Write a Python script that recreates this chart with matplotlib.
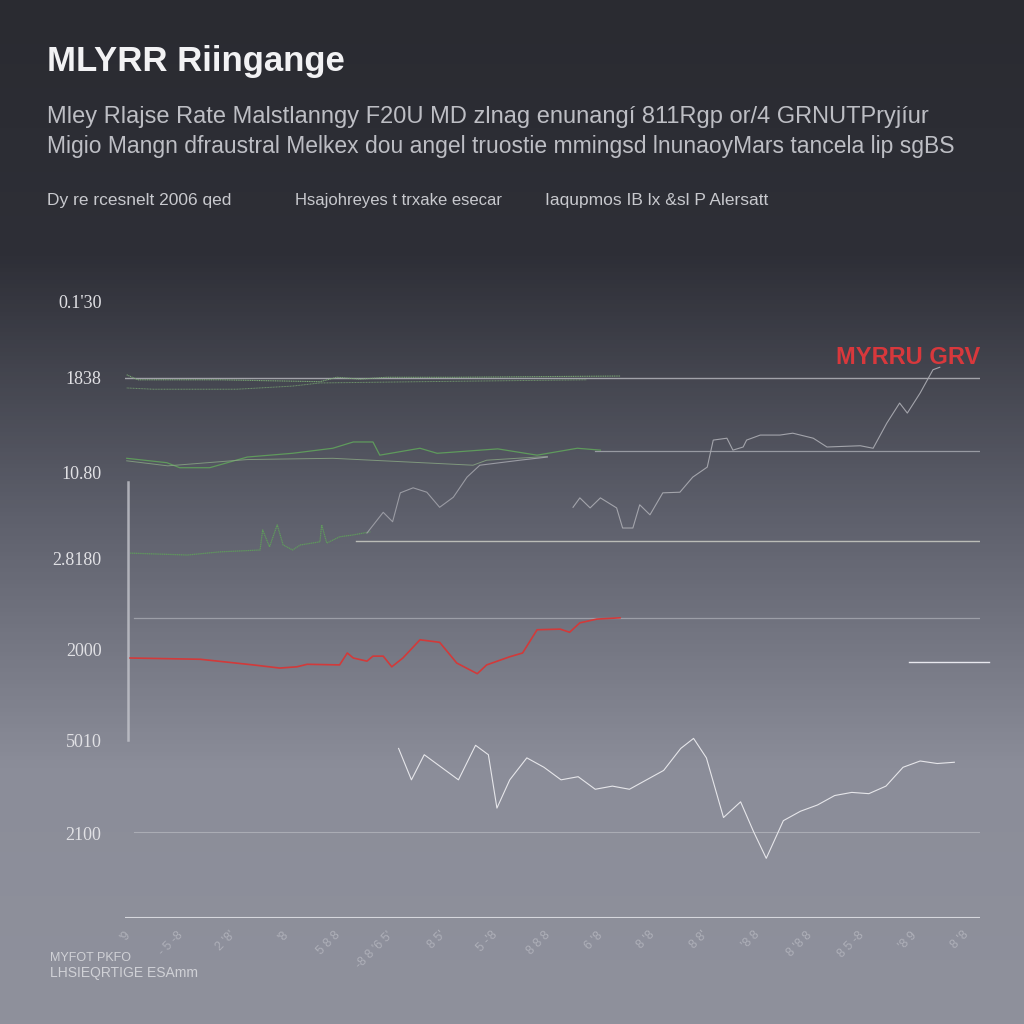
import numpy as np
import matplotlib.pyplot as plt
from matplotlib.colors import LinearSegmentedColormap

# y tick labels as they appear (top to bottom)
ytick_labels = ["0.1'30", "1838", "10.80", "2.8180", "2000", "5010", "2100"]
ytick_values = [98.1, 86.0, 71.0, 57.3, 42.7, 28.3, 13.5]

xtick_labels = ["'9", "- 5 -8", "2 '8'", "'8", "5 8 8", "-8 8 '6 5'", "8 5'",
                "5 -'8", "8 8 8", "6 '8", "8 '8", "8 8'", "'8 8", "8 '8 8",
                "8 5 -8", "'8 9", "8 '8"]

# series, x in 0..100 across the plot
green_top_x = [0.2, 1.5, 11.1, 22.8, 24.8, 27.5, 30.6, 38.4, 57.9]
green_top_y = [86.5, 85.7, 85.7, 85.4, 86.1, 85.8, 86.1, 86.1, 86.3]
green_top2_x = [0.2, 3.3, 13.1, 19.6, 22.8, 34.5, 54.0]
green_top2_y = [84.4, 84.2, 84.2, 84.7, 85.2, 85.4, 85.7]

green_mid_x = [0.2, 4.9, 6.4, 9.9, 14.3, 19.6, 24.3, 26.7, 29.0, 29.8, 34.5, 36.5, 43.6, 48.2, 52.9, 55.6]
green_mid_y = [73.2, 72.5, 71.7, 71.7, 73.4, 74.0, 74.8, 75.8, 75.8, 73.7, 74.8, 74.0, 74.7, 73.7, 74.8, 74.5]
green_mid2_x = [0.2, 5.0, 14.3, 24.3, 40.7, 42.3, 49.4]
green_mid2_y = [72.8, 72.0, 73.0, 73.2, 72.1, 72.9, 73.5]

green_low_x = [0.6, 7.3, 11.1, 15.8, 16.1, 16.9, 17.8, 18.5, 19.6, 20.5, 22.8, 23.0, 23.6, 25.1, 26.7, 28.7]
green_low_y = [58.1, 57.8, 58.3, 58.6, 61.8, 59.1, 62.6, 59.4, 58.6, 59.4, 59.9, 62.6, 59.7, 60.7, 61.0, 61.5]

grey_a_x = [28.3, 30.2, 31.3, 32.2, 33.7, 35.3, 36.8, 38.4, 40.0, 41.5, 46.2, 49.4]
grey_a_y = [61.3, 64.6, 63.1, 67.7, 68.5, 67.8, 65.4, 67.0, 70.2, 72.1, 72.9, 73.4]
grey_b_x = [52.4, 53.2, 54.4, 55.6, 57.5, 58.2, 59.4, 60.2, 61.4, 62.9, 64.9, 66.4, 68.1, 68.8,
            70.4, 71.1, 72.3, 72.7, 74.3, 76.6, 78.1, 80.5, 82.1, 86.0, 87.5, 89.1, 90.6,
            91.5, 93.0, 94.5, 95.3]
grey_b_y = [65.4, 66.9, 65.3, 66.9, 65.3, 62.1, 62.1, 65.8, 64.2, 67.7, 67.8, 70.2, 71.8, 76.1,
            76.4, 74.5, 75.0, 76.1, 76.9, 76.9, 77.2, 76.4, 75.0, 75.2, 74.8, 78.8, 82.0,
            80.4, 83.6, 87.3, 87.7]

red_x = [0.6, 8.8, 15.0, 18.1, 20.1, 21.3, 25.1, 26.0, 26.7, 28.3, 29.0, 30.2, 31.2, 32.5,
         34.5, 36.8, 38.8, 41.2, 42.3, 45.0, 46.5, 48.2, 50.9, 52.0, 53.2, 55.2, 57.9]
red_y = [41.4, 41.2, 40.3, 39.8, 40.0, 40.4, 40.3, 42.2, 41.4, 40.9, 41.7, 41.7, 40.0, 41.4,
         44.3, 43.9, 40.6, 38.9, 40.3, 41.6, 42.2, 45.9, 46.0, 45.5, 47.0, 47.6, 47.8]

white_x = [32, 33.5, 35, 37, 39, 41, 42.5, 43.5, 45, 47, 49, 51, 53, 55, 57, 59, 61,
           63, 65, 66.5, 68, 70, 72, 73.5, 75, 77, 79, 81, 83, 85, 87, 89, 91, 93, 95, 97]
white_y = [27.0, 22.0, 26.0, 24.0, 22.0, 27.5, 26.0, 17.5, 22.0, 25.5, 24.0, 22.0, 22.5,
           20.5, 21.0, 20.5, 22.0, 23.5, 27.0, 28.6, 25.5, 16.0, 18.5, 13.8, 9.5,
           15.5, 17.0, 18.0, 19.5, 20.0, 19.8, 21.0, 24.0, 25.0, 24.6, 24.8]

plt.rcParams['font.family'] = ['Liberation Sans', 'DejaVu Sans']

fig = plt.figure(figsize=(10.24, 10.24), dpi=100)

# gradient background
bg = fig.add_axes([0, 0, 1, 1])
grad = np.linspace(0, 1, 256).reshape(-1, 1)
cmap = LinearSegmentedColormap.from_list("bg", ["#2a2b31", "#2e2f37", "#5d5f6b", "#8b8d99", "#8f919c"])
bg.imshow(grad, aspect="auto", cmap=cmap, extent=[0, 1, 0, 1], origin="upper")
bg.set_axis_off()

ax = fig.add_axes([125 / 1024, 106 / 1024, 855 / 1024, 628 / 1024])
ax.patch.set_alpha(0)
ax.set_xlim(0, 100)
ax.set_ylim(0, 100)
for s in ax.spines.values():
    s.set_visible(False)

# grid-like horizontal lines
ax.axhline(86.0, color="#c9cad0", lw=1.0, alpha=0.7)
ax.axhline(74.4, xmin=0.55, color="#c9cad0", lw=0.9, alpha=0.6)
ax.axhline(60.0, xmin=0.27, color="#d8dad0", lw=1.0, alpha=0.75)
ax.axhline(47.8, xmin=0.01, color="#c9cad0", lw=0.9, alpha=0.5)
ax.axhline(40.7, xmin=0.917, xmax=1.01, color="#e8e8ee", lw=1.0, clip_on=False)
ax.axhline(13.7, xmin=0.01, color="#c9cad0", lw=0.8, alpha=0.5)
ax.axhline(0, color="#d6d7dd", lw=1.5)
ax.axvline(0.4, ymin=0.283, ymax=0.694, color="#c4c5cc", lw=1.8, alpha=0.8)

ax.plot(green_top_x, green_top_y, color="#7aa874", lw=0.8, ls=(0, (1, 0.6)))
ax.plot(green_top2_x, green_top2_y, color="#7aa874", lw=0.7, ls=(0, (1, 0.6)), alpha=0.8)
ax.plot(green_mid_x, green_mid_y, color="#5f9a5c", lw=0.9)
ax.plot(green_mid2_x, green_mid2_y, color="#8aa884", lw=0.7, alpha=0.8)
ax.plot(green_low_x, green_low_y, color="#5f9a5c", lw=0.9, ls=(0, (1, 0.5)))
ax.plot(grey_a_x, grey_a_y, color="#9a9ba3", lw=0.8)
ax.plot(grey_b_x, grey_b_y, color="#a3a4ab", lw=0.8)
ax.plot(red_x, red_y, color="#d23a3a", lw=1.2)
ax.plot(white_x, white_y, color="#e6e6ea", lw=0.8)

ax.set_yticks(ytick_values)
ax.set_yticklabels(ytick_labels, fontsize=13, color="#e0e0e4", family=["Liberation Serif", "DejaVu Serif"])
ax.tick_params(axis="y", length=0, pad=17)
ax.set_xticks(np.linspace(1, 99, len(xtick_labels)))
ax.set_xticklabels(xtick_labels, rotation=45, fontsize=9, color="#c4c5cc", alpha=0.6, ha="right")
ax.tick_params(axis="x", length=0, pad=8)

ax.text(100, 89.2, "MYRRU GRV", color="#d8383c", fontsize=17, fontweight="bold",
        ha="right", va="center")

fig.text(47 / 1024, 1 - 62 / 1024, "MLYRR Riingange", color="#f2f2f4", fontsize=25,
         fontweight="bold", va="center")
fig.text(47 / 1024, 1 - 117 / 1024,
         "Mley Rlajse Rate Malstlanngy F20U\u00a0MD zlnag enunang\u00ed 811Rgp or/4 GRNUTPryj\u00edur",
         color="#bdbec4", fontsize=17, va="center")
fig.text(47 / 1024, 1 - 147 / 1024,
         "Migio Mangn dfraustral Melkex dou angel truostie mmingsd lnunaoyMars tancela lip sgBS",
         color="#bdbec4", fontsize=16.5, va="center")
fig.text(47 / 1024, 1 - 201 / 1024, "Dy re rcesnelt 2006 qed", color="#c8c9ce", fontsize=12.5, va="center")
fig.text(295 / 1024, 1 - 201 / 1024, "Hsajohreyes t trxake esecar", color="#c8c9ce", fontsize=12, va="center")
fig.text(545 / 1024, 1 - 201 / 1024, "Iaqupmos IB lx &sl P Alersatt", color="#c8c9ce", fontsize=12.5, va="center")

fig.text(50 / 1024, 1 - 958 / 1024, "MYFOT PKFO", color="#d0d1d6", fontsize=9, va="center")
fig.text(50 / 1024, 1 - 973 / 1024, "LHSIEQRTIGE ESAmm", color="#d0d1d6", fontsize=10, va="center")

fig.savefig("out.png", dpi=100)
